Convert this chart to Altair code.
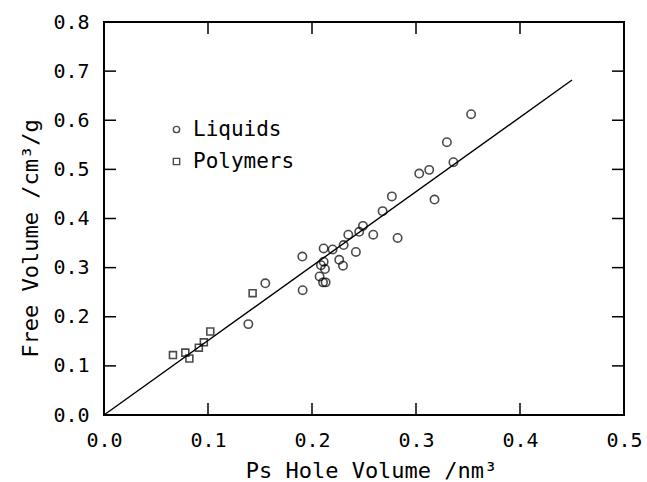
import altair as alt
import pandas as pd

# Data
liq_x = [0.1388, 0.1551, 0.1907, 0.1910, 0.2073, 0.2086, 0.2106, 0.2112, 0.2112, 0.2125,
         0.2131, 0.2198, 0.2262, 0.2298, 0.2304, 0.2349, 0.2422, 0.2454, 0.2490, 0.2589,
         0.2679, 0.2768, 0.2823, 0.3031, 0.3127, 0.3178, 0.3297, 0.3360, 0.3530]
liq_y = [0.185, 0.268, 0.3225, 0.254, 0.282, 0.305, 0.270, 0.339, 0.312, 0.297,
         0.270, 0.337, 0.316, 0.304, 0.346, 0.367, 0.332, 0.373, 0.385, 0.367,
         0.415, 0.445, 0.3605, 0.4915, 0.499, 0.4386, 0.5554, 0.5146, 0.6124]
pol_x = [0.0663, 0.0782, 0.0821, 0.0912, 0.0960, 0.1022, 0.1429]
pol_y = [0.122, 0.127, 0.115, 0.137, 0.148, 0.170, 0.248]
fit_x = [0.0, 0.45]
fit_y = [0.0, 0.682]
x_ticks = [0.0, 0.1, 0.2, 0.3, 0.4, 0.5]
y_ticks = [0.0, 0.1, 0.2, 0.3, 0.4, 0.5, 0.6, 0.7, 0.8]
x_inner = [0.1, 0.2, 0.3, 0.4]
y_inner = [0.1, 0.2, 0.3, 0.4, 0.5, 0.6, 0.7]

W, H = 520, 393
FONT = "DejaVu Sans Mono"
TL = 12  # inward tick length

pts = pd.DataFrame({
    "x": liq_x + pol_x,
    "y": liq_y + pol_y,
    "kind": ["Liquids"] * len(liq_x) + ["Polymers"] * len(pol_x),
})
fit = pd.DataFrame({"x": fit_x, "y": fit_y})
xt = pd.DataFrame({"x": x_inner})
yt = pd.DataFrame({"y": y_inner})

xs = alt.Scale(domain=[0, 0.5], nice=False, zero=False)
ys = alt.Scale(domain=[0, 0.8], nice=False, zero=False)
xaxis = alt.Axis(values=x_ticks, format=".1f", title="Ps Hole Volume /nm³",
                 titleX=267, titleY=55, titleBaseline="middle", titleAlign="center")
yaxis = alt.Axis(values=y_ticks, format=".1f", title="Free Volume /cm³/g",
                 titleX=-74, titleY=216, titleAngle=-90, titleBaseline="middle",
                 titleAlign="center")
X = lambda: alt.X("x:Q", scale=xs, axis=xaxis)
Y = lambda: alt.Y("y:Q", scale=ys, axis=yaxis)

points = alt.Chart(pts).mark_point(filled=False, color="black", strokeWidth=1.6).encode(
    x=X(), y=Y(),
    shape=alt.Shape("kind:N", scale=alt.Scale(domain=["Liquids", "Polymers"],
                                              range=["circle", "square"]),
                    legend=alt.Legend(title=None, orient="none", legendX=62, legendY=97,
                                      symbolSize=40, symbolStrokeWidth=1.4,
                                      symbolStrokeColor="black", symbolFillColor="white",
                                      labelFont=FONT, labelFontSize=21, labelColor="black",
                                      labelOffset=6, rowPadding=10)),
    size=alt.condition(alt.datum.kind == "Liquids", alt.value(70), alt.value(48)),
)

line = alt.Chart(fit).mark_line(color="black", strokeWidth=1.4).encode(x=X(), y=Y())

tick_style = dict(color="black", strokeWidth=1.5)
bottom = alt.Chart(xt).mark_rule(**tick_style).encode(
    x=X(), y=alt.value(H), y2=alt.value(H - TL))
top = alt.Chart(xt).mark_rule(**tick_style).encode(
    x=X(), y=alt.value(0), y2=alt.value(TL))
left = alt.Chart(yt).mark_rule(**tick_style).encode(
    y=Y(), x=alt.value(0), x2=alt.value(TL))
right = alt.Chart(yt).mark_rule(**tick_style).encode(
    y=Y(), x=alt.value(W), x2=alt.value(W - TL))

chart = alt.layer(points, line, bottom, top, left, right).properties(
    width=W, height=H,
    autosize=alt.AutoSizeParams(type="none"),
    padding={"left": 104, "top": 22, "right": 23, "bottom": 67},
    background="white",
).configure_view(
    stroke="black", strokeWidth=2
).configure_axis(
    domain=False, grid=False, ticks=False, tickSize=0, labelFlush=False,
    labelFont=FONT, labelFontSize=20, labelColor="black", labelPadding=15,
    titleFont=FONT, titleFontSize=22, titleColor="black", titleFontWeight="normal",
)

chart.save("out.html", embed_options={"renderer": "svg", "actions": False})
